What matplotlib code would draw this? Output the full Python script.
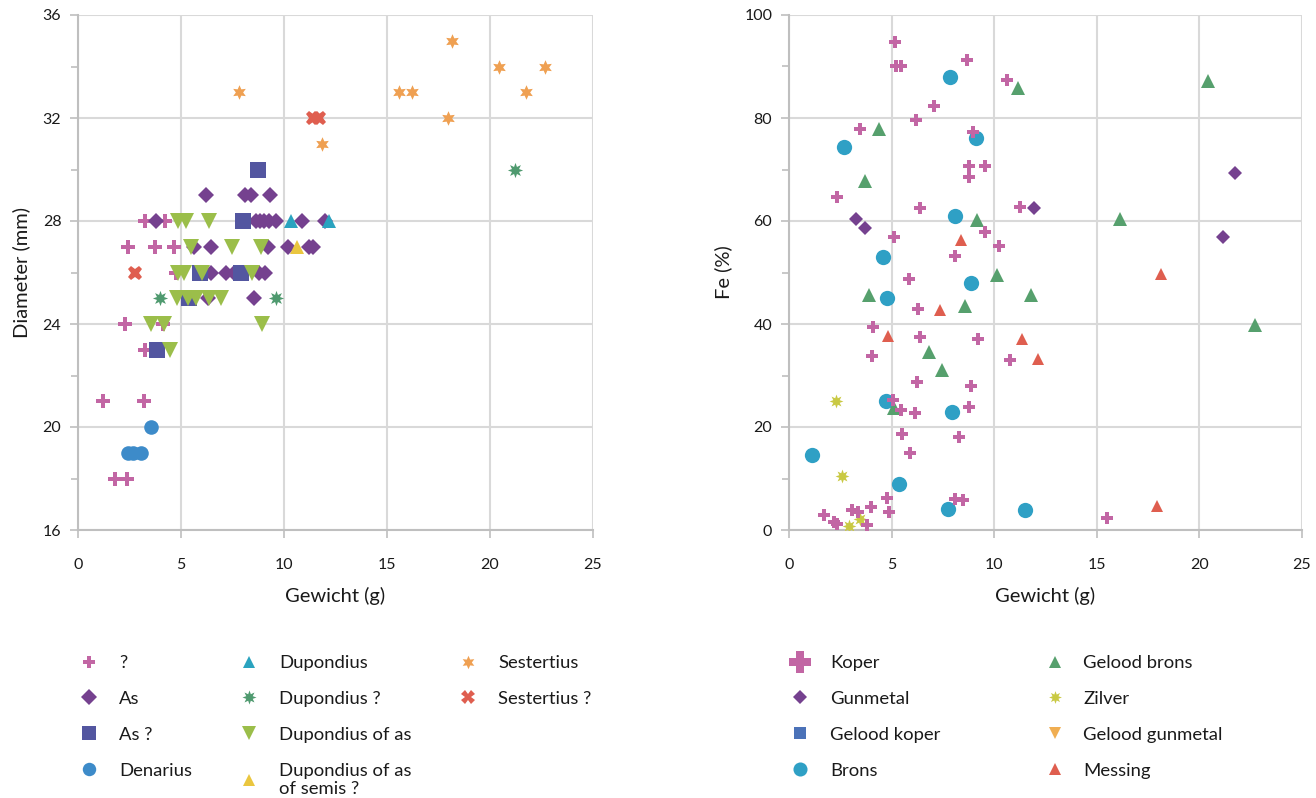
import matplotlib
matplotlib.use("Agg")
import matplotlib.pyplot as plt
from matplotlib.lines import Line2D

plt.rcParams['font.family'] = ['Lato', 'DejaVu Sans']

# ---------------- Left chart data: Gewicht (g) vs Diameter (mm) ----------------
q_x = [3.27, 4.24, 2.42, 3.76, 4.67, 4.75, 2.27, 4.11, 3.27, 1.21, 3.18, 1.81, 2.37]
q_y = [28, 28, 27, 27, 27, 26, 24, 24, 23, 21, 21, 18, 18]

as_x = [6.21, 8.11, 8.38, 9.30,
        3.79, 8.62, 8.85, 9.05, 9.27, 9.62, 10.85, 12.0,
        5.64, 6.45, 9.24, 10.19, 11.2, 11.4,
        6.45, 7.17, 7.58, 8.79, 9.06,
        6.29, 8.56]
as_y = [29, 29, 29, 29,
        28, 28, 28, 28, 28, 28, 28, 28,
        27, 27, 27, 27, 27, 27,
        26, 26, 26, 26, 26,
        25, 25]

asq_x = [8.75, 8.03, 5.93, 7.93, 5.40, 3.82]
asq_y = [30, 28, 26, 26, 25, 23]

den_x = [3.56, 2.42, 2.69, 3.06]
den_y = [20, 19, 19, 19]

dup_x = [10.32, 12.17]
dup_y = [28, 28]

dupq_x = [4.0, 9.62, 21.2]
dupq_y = [25, 25, 30]

dupas_x = [4.84, 5.24, 6.37,
           5.48, 7.46, 8.86,
           4.84, 5.16, 6.04, 8.46,
           4.80, 5.32, 5.72, 6.37, 6.93,
           3.55, 4.19, 8.95,
           4.48]
dupas_y = [28, 28, 28,
           27, 27, 27,
           26, 26, 26, 26,
           25, 25, 25, 25, 25,
           24, 24, 24,
           23]

semis_x = [10.65]
semis_y = [27]

ses_x = [18.15, 20.45, 22.69, 15.57, 16.2, 21.74, 17.94, 7.83, 11.85]
ses_y = [35, 34, 34, 33, 33, 33, 32, 33, 31]

sesq_x = [2.79, 11.4, 11.7]
sesq_y = [26, 32, 32]

# ---------------- Right chart data: Gewicht (g) vs Fe (%) ----------------
koper_x = [5.19, 5.2, 5.45, 8.67, 10.61, 7.06, 6.21, 3.46, 8.96, 8.75, 9.53, 8.79,
           2.33, 6.36, 11.26, 9.53, 5.11, 10.24, 8.11, 5.87, 6.29, 4.11, 6.36, 9.21,
           4.06, 10.78, 6.25, 8.88, 5.06, 5.47, 6.13, 8.75, 5.49, 8.30, 5.92, 4.76,
           3.98, 4.89, 3.06, 3.36, 1.71, 2.20, 2.35, 3.79, 8.07, 8.48, 15.52]
koper_y = [94.8, 90.0, 90.0, 91.2, 87.4, 82.4, 79.6, 77.8, 77.3, 70.7, 70.7, 68.5,
           64.7, 62.5, 62.8, 57.9, 56.9, 55.2, 53.3, 48.8, 42.9, 39.4, 37.4, 37.1,
           33.7, 33.1, 28.8, 28.0, 25.2, 23.3, 22.8, 23.9, 18.6, 18.1, 15.0, 6.2,
           4.5, 3.4, 3.9, 3.4, 3.0, 1.6, 1.2, 1.0, 6.0, 5.8, 2.4]

gun_x = [11.96, 3.25, 3.69, 21.73, 21.17]
gun_y = [62.6, 60.4, 58.6, 69.4, 56.8]

gkoper_x = []
gkoper_y = []

brons_x = [7.83, 9.09, 2.70, 8.11, 4.60, 8.88, 4.79, 4.72, 7.95, 1.12, 5.34, 7.75, 11.50]
brons_y = [87.9, 76.1, 74.4, 60.9, 53.1, 48.0, 45.1, 25.1, 23.0, 14.6, 8.9, 4.1, 3.8]

gbrons_x = [11.15, 4.38, 3.69, 9.16, 10.13, 3.90, 11.80, 8.59, 6.81, 7.46, 5.11,
            20.44, 16.15, 22.7]
gbrons_y = [85.9, 77.9, 67.8, 60.2, 49.6, 45.6, 45.6, 43.4, 34.6, 31.1, 23.6,
            87.1, 60.4, 39.9]

zilver_x = [2.31, 2.57, 3.46, 2.93]
zilver_y = [25.0, 10.5, 2.1, 0.7]

ggun_x = []
ggun_y = []

messing_x = [8.40, 7.38, 4.82, 11.34, 12.12, 18.11, 17.91]
messing_y = [56.4, 42.7, 37.7, 37.0, 33.3, 49.8, 4.7]

# ---------------- Styling ----------------
PINK = '#C266A4'
PURPLE = '#75418F'
SLATE = '#5356A0'
BLUE = '#3D8BC9'
TEAL = '#2AA3BF'
GREEN = '#4F9A6F'
LIME = '#9BBE4A'
YELLOW = '#EAC63F'
ORANGE = '#EFA052'
RED = '#DF5E4F'
GKBLUE = '#4B72B8'
BRONS = '#2FA0C5'
GBRONS = '#56A06D'
ZILVER = '#C9C943'
GGUN = '#F0AE52'

star6 = (6, 1, 0)
burst = (8, 1, 0)

GRID = '#D9D9D9'
SPINE = '#BFBFBF'
TEXT = '#1a1a1a'

fig = plt.figure(figsize=(13.16, 7.98), dpi=100)
axL = fig.add_axes([78 / 1316, 1 - 530 / 798, 515 / 1316, 515 / 798])
axR = fig.add_axes([789 / 1316, 1 - 530 / 798, 513 / 1316, 515 / 798])


def style_axes(ax):
    for s in ['top', 'right']:
        ax.spines[s].set_visible(False)
    for s in ['left', 'bottom']:
        ax.spines[s].set_color(SPINE)
        ax.spines[s].set_linewidth(1.5)
    ax.grid(True, which='major', color=GRID, linewidth=1.5)
    ax.set_axisbelow(True)
    ax.tick_params(axis='both', which='both', colors=SPINE, labelcolor=TEXT,
                   labelsize=11.5, width=1.2)
    ax.tick_params(axis='x', which='major', length=6, pad=14)
    ax.tick_params(axis='y', which='major', length=6, pad=6)
    ax.tick_params(axis='y', which='minor', length=5)
    ax.tick_params(axis='x', which='minor', length=0)


def pts(ax, x, y, marker, color, ms, label, z=3):
    return ax.plot(x, y, linestyle='none', marker=marker, color=color, ms=ms,
                   mew=0, mec=color, label=label, zorder=z)[0]


def proxy(h, ms=None):
    return Line2D([], [], linestyle='none', marker=h.get_marker(),
                  color=h.get_color(), mew=0,
                  ms=ms if ms is not None else h.get_markersize() * 0.92)


# Left chart
hL = []
hL.append(pts(axL, q_x, q_y, 'P', PINK, 10, '?'))
hL.append(pts(axL, as_x, as_y, 'D', PURPLE, 8.5, 'As'))
hL.append(pts(axL, asq_x, asq_y, 's', SLATE, 11.5, 'As ?'))
hL.append(pts(axL, den_x, den_y, 'o', BLUE, 10.5, 'Denarius'))
hL.append(pts(axL, dup_x, dup_y, '^', TEAL, 10, 'Dupondius'))
hL.append(pts(axL, dupq_x, dupq_y, burst, GREEN, 11, 'Dupondius ?'))
hL.append(pts(axL, dupas_x, dupas_y, 'v', LIME, 11, 'Dupondius of as'))
hL.append(pts(axL, semis_x, semis_y, '^', YELLOW, 10, 'Dupondius of as\nof semis ?'))
hL.append(pts(axL, ses_x, ses_y, star6, ORANGE, 10.5, 'Sestertius'))
hL.append(pts(axL, sesq_x, sesq_y, 'X', RED, 10.5, 'Sestertius ?'))

axL.set_xlim(0, 25)
axL.set_ylim(16, 36)
axL.set_xticks([0, 5, 10, 15, 20, 25])
axL.set_yticks([16, 20, 24, 28, 32, 36])
axL.set_yticks([18, 22, 26, 30, 34], minor=True)
style_axes(axL)
axL.set_xlabel('Gewicht (g)', fontsize=14.5, color=TEXT, labelpad=11)
axL.set_ylabel('Diameter (mm)', fontsize=14.5, color=TEXT, labelpad=9)

# Right chart
hR = []
hR.append(pts(axR, koper_x, koper_y, 'P', PINK, 9, 'Koper', z=6))
hR.append(pts(axR, gun_x, gun_y, 'D', PURPLE, 7.5, 'Gunmetal'))
hR.append(pts(axR, gkoper_x, gkoper_y, 's', GKBLUE, 10, 'Gelood koper'))
hR.append(pts(axR, brons_x, brons_y, 'o', BRONS, 11, 'Brons'))
hR.append(pts(axR, gbrons_x, gbrons_y, '^', GBRONS, 9.5, 'Gelood brons'))
hR.append(pts(axR, zilver_x, zilver_y, burst, ZILVER, 10, 'Zilver'))
hR.append(pts(axR, ggun_x, ggun_y, 'v', GGUN, 10, 'Gelood gunmetal'))
hR.append(pts(axR, messing_x, messing_y, '^', RED, 9, 'Messing'))

axR.set_xlim(0, 25)
axR.set_ylim(0, 100)
axR.set_xticks([0, 5, 10, 15, 20, 25])
axR.set_yticks([0, 20, 40, 60, 80, 100])
axR.set_yticks([10, 30, 50, 70, 90], minor=True)
style_axes(axR)
axR.set_xlabel('Gewicht (g)', fontsize=14.5, color=TEXT, labelpad=11)
axR.set_ylabel('Fe (%)', fontsize=14.5, color=TEXT, labelpad=9)

# Legends: one per column so that each column sits where the reference has it
FS = 13.3
FSPX = FS * 100 / 72
HL = 1.1
TOP = 1 - 655 / 798


def column_legend(handles, labels, handle_cx, text_x):
    left = handle_cx - HL * FSPX / 2
    pad = (text_x - (left + HL * FSPX)) / FSPX
    fig.legend(handles, labels, loc='upper left',
               bbox_to_anchor=(left / 1316, TOP), ncol=1, frameon=False,
               prop={'size': FS}, handlelength=HL,
               handletextpad=pad, labelspacing=1.08, borderpad=0,
               borderaxespad=0, labelcolor=TEXT)


column_legend([proxy(h) for h in hL[0:4]], [h.get_label() for h in hL[0:4]], 89, 119)
column_legend([proxy(h) for h in hL[4:8]], [h.get_label() for h in hL[4:8]], 249, 279)
column_legend([proxy(h) for h in hL[8:10]], [h.get_label() for h in hL[8:10]], 468, 498)

r1 = [proxy(hR[0], ms=16)] + [proxy(h) for h in hR[1:4]]
column_legend(r1, [h.get_label() for h in hR[0:4]], 800, 830)
column_legend([proxy(h) for h in hR[4:8]], [h.get_label() for h in hR[4:8]], 1055, 1083)

fig.savefig('out.png', dpi=100, facecolor='white')
